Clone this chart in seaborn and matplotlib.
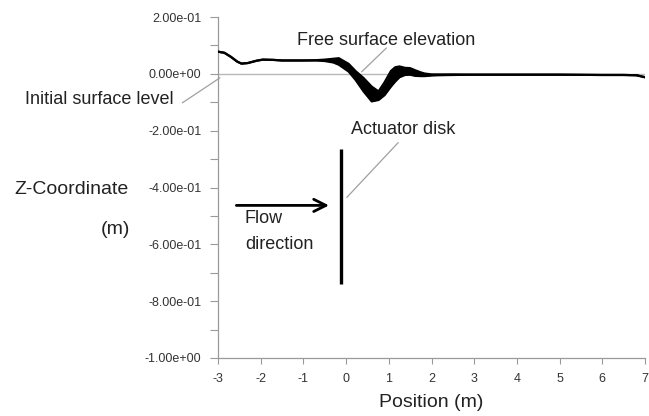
import matplotlib
matplotlib.use("Agg")
import matplotlib.pyplot as plt
import seaborn as sns
import pandas as pd

# Free-surface profile along the channel (envelope over the simulated period)
position = [-3.0, -2.85, -2.7, -2.55, -2.45, -2.3, -2.1, -1.95, -1.7, -1.5, -1.2,
            -1.0, -0.7, -0.5, -0.3, -0.17, 0.06, 0.22, 0.41, 0.60, 0.76, 0.90,
            1.05, 1.15, 1.25, 1.38, 1.50, 1.61, 1.75, 1.84, 2.0, 2.15, 2.5, 3.0,
            4.0, 5.0, 6.0, 6.5, 6.8, 7.0]
elevation_max = [0.078, 0.074, 0.060, 0.043, 0.036, 0.038, 0.046, 0.050, 0.049,
                 0.047, 0.047, 0.047, 0.048, 0.050, 0.053, 0.055, 0.035, 0.010,
                 -0.015, -0.045, -0.062, -0.030, 0.010, 0.023, 0.026, 0.021,
                 0.020, 0.013, 0.005, 0.001, -0.002, -0.002, -0.002, -0.003,
                 -0.003, -0.003, -0.004, -0.004, -0.005, -0.012]
elevation_min = [0.078, 0.074, 0.060, 0.043, 0.036, 0.038, 0.046, 0.050, 0.049,
                 0.047, 0.047, 0.047, 0.047, 0.045, 0.040, 0.032, 0.008, -0.021,
                 -0.062, -0.097, -0.092, -0.075, -0.045, -0.027, -0.012, -0.004,
                 -0.003, -0.007, -0.008, -0.008, -0.006, -0.005, -0.004, -0.003,
                 -0.003, -0.003, -0.004, -0.004, -0.005, -0.012]

# Actuator disk and flow arrow
disk_x = -0.13
disk_top = -0.265
disk_bottom = -0.74
arrow_start = -2.57
arrow_end = -0.40
arrow_z = -0.463

x_ticks = [-3, -2, -1, 0, 1, 2, 3, 4, 5, 6, 7]
y_ticks = [-1.0, -0.8, -0.6, -0.4, -0.2, 0.0, 0.2]

sns.set_style("white")
plt.rcParams["font.family"] = ["Liberation Sans", "DejaVu Sans"]

fig = plt.figure(figsize=(6.49, 4.16), dpi=100)
ax = fig.add_axes([218 / 649, 1 - 358 / 416, (645 - 218) / 649, (358 - 17) / 416])

df = pd.DataFrame({"position": position,
                   "zmax": elevation_max,
                   "zmin": elevation_min})

# initial (still) surface level
ax.axhline(0.0, color="#b8b8b8", lw=1.0, zorder=1)

ax.fill_between(df["position"], df["zmin"], df["zmax"], color="black",
                lw=0, zorder=3)
sns.lineplot(data=df, x="position", y="zmax", color="black", lw=1.6,
             ax=ax, zorder=4)
sns.lineplot(data=df, x="position", y="zmin", color="black", lw=1.6,
             ax=ax, zorder=4)

ax.vlines(disk_x, disk_bottom, disk_top, color="black", lw=2.4, zorder=4)
ax.annotate("", xy=(arrow_end, arrow_z), xytext=(arrow_start, arrow_z),
            arrowprops=dict(arrowstyle="->", lw=2.0, color="black",
                            mutation_scale=22, shrinkA=0, shrinkB=0))

ax.set_xlim(-3, 7)
ax.set_ylim(-1.0, 0.2)
ax.set_xticks(x_ticks)
ax.set_xticklabels([str(t) for t in x_ticks])
ax.set_yticks(y_ticks)
ax.set_yticklabels([f"{t:.2e}" for t in y_ticks])
ax.set_yticks([-0.9, -0.7, -0.5, -0.3, -0.1, 0.1], minor=True)

ax.set_xlabel("Position (m)", fontsize=14, color="#222222", labelpad=6)
ax.set_ylabel("")

for side in ("top", "right"):
    ax.spines[side].set_visible(False)
for side in ("left", "bottom"):
    ax.spines[side].set_color("#9a9a9a")
    ax.spines[side].set_linewidth(0.9)

ax.tick_params(axis="y", which="both", direction="out", length=6, width=0.8,
               color="#9a9a9a", labelsize=9, labelcolor="#333333", pad=6,
               left=True)
ax.tick_params(axis="x", which="major", direction="out", length=4, width=0.8,
               color="#9a9a9a", labelsize=9, labelcolor="#333333", pad=7,
               bottom=True)

txt = dict(fontsize=13, color="#222222")
gray = dict(color="#a0a0a0", lw=0.9)

ax.text(0.94, 0.119, "Free surface elevation", ha="center", va="center", **txt)
ax.plot([0.944, 0.364], [0.091, 0.007], clip_on=False, **gray)

ax.text(-4.04, -0.091, "Initial surface level", ha="right", va="center",
        clip_on=False, **txt)
ax.plot([-3.835, -2.954], [-0.102, -0.014], clip_on=False, **gray)

ax.text(0.11, -0.196, "Actuator disk", ha="left", va="center", **txt)
ax.plot([1.22, 0.016], [-0.242, -0.435], **gray)

ax.text(-2.37, -0.509, "Flow", ha="left", va="center", **txt)
ax.text(-2.37, -0.600, "direction", ha="left", va="center", **txt)

fig.text(129 / 649, 1 - 189 / 416, "Z-Coordinate", ha="right", va="center",
         fontsize=14, color="#222222")
fig.text(130 / 649, 1 - 229 / 416, "(m)", ha="right", va="center",
         fontsize=14, color="#222222")

fig.savefig("out.png", dpi=100)
